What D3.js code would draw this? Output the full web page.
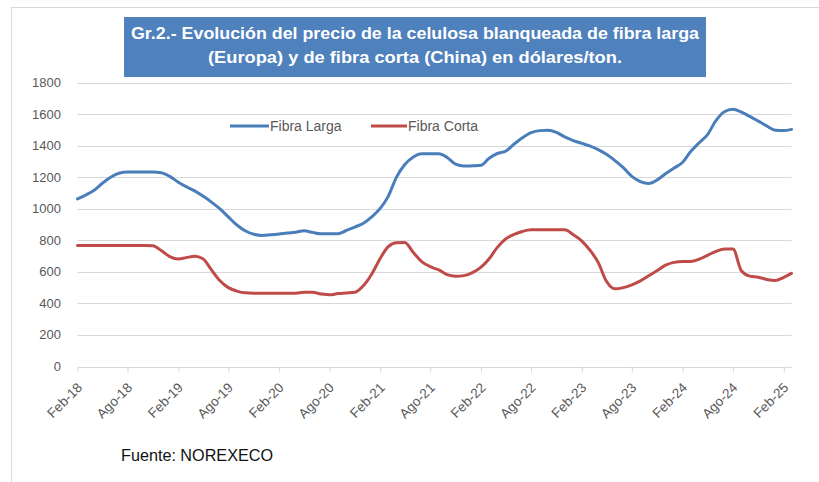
<!DOCTYPE html>
<html>
<head>
<meta charset="utf-8">
<script src="https://cdn.jsdelivr.net/npm/d3@7"></script>
<style>
  body { margin: 0; background: #fff; }
  svg { display: block; }
</style>
</head>
<body>
<svg width="819" height="482"></svg>
<script>
// DATA (monthly, Feb-18 .. Mar-25, USD/ton)
const startMonth = new Date(2018, 1, 1);
const endMonth = new Date(2025, 2, 1);

const tickLabels = ['Feb-18', 'Ago-18', 'Feb-19', 'Ago-19', 'Feb-20', 'Ago-20', 'Feb-21', 'Ago-21',
  'Feb-22', 'Ago-22', 'Feb-23', 'Ago-23', 'Feb-24', 'Ago-24', 'Feb-25'];

const yTicks = [0, 200, 400, 600, 800, 1000, 1200, 1400, 1600, 1800];

const fibraLarga = [
  1062, 1085, 1115, 1160, 1200, 1225, 1232, 1232, 1232, 1232, 1228, 1205,
  1168, 1140, 1113, 1080, 1042, 1000, 948, 897, 860, 838, 831, 835,
  840, 846, 851, 860, 850, 841, 841, 841, 862, 884, 906, 948,
  1002, 1075, 1200, 1280, 1328, 1348, 1348, 1348, 1325, 1282, 1270, 1272,
  1275, 1318, 1350, 1364, 1410, 1450, 1482, 1495, 1497, 1484, 1455, 1432,
  1414, 1398, 1375, 1345, 1305, 1260, 1205, 1172, 1160, 1183, 1222, 1258,
  1295, 1363, 1418, 1470, 1560, 1615, 1630, 1612, 1585, 1555, 1525, 1498,
  1495, 1503
];

const fibraCorta = [
  767, 767, 767, 767, 767, 767, 767, 767, 767, 765, 735, 697,
  682, 690, 698, 683, 612, 545, 500, 478, 467, 465, 465, 465,
  465, 465, 465, 470, 470, 460, 454, 462, 466, 470, 510, 585,
  685, 758, 785, 786, 722, 665, 633, 612, 582, 572, 576, 595,
  630, 680, 755, 808, 837, 856, 866, 866, 866, 866, 866, 835,
  795, 740, 660, 540, 492, 500, 518, 543, 575, 608, 642, 660,
  665, 665, 680, 705, 730, 744, 744, 605, 573, 566, 552, 545,
  565, 590
];

const seriesNames = ['Fibra Larga', 'Fibra Corta'];
const seriesColors = ['#4A7EBB', '#BE4B48'];

const months = d3.timeMonth.range(startMonth, d3.timeMonth.offset(endMonth, 1));
const series = [fibraLarga, fibraCorta].map((vals, i) => ({
  name: seriesNames[i],
  color: seriesColors[i],
  values: vals.map((v, j) => ({ date: months[j], value: v }))
}));

const FONT = "'Liberation Sans', Arial, sans-serif";
const NARROW = "'Liberation Sans Narrow', 'Liberation Sans', Arial, sans-serif";
const PLOT = { left: 77.5, right: 791.5, top: 82.5, bottom: 366.5 };

const svg = d3.select('svg');

// outer frame
svg
  .append('rect')
  .attr('x', 11.5)
  .attr('y', 7.5)
  .attr('width', 830)
  .attr('height', 500)
  .attr('fill', '#fff')
  .attr('stroke', '#d9d9d9');

const x = d3.scaleTime().domain([startMonth, endMonth]).range([PLOT.left, PLOT.right]);
const y = d3.scaleLinear().domain([0, 1800]).range([PLOT.bottom, PLOT.top]);

// gridlines
svg
  .append('g')
  .selectAll('line')
  .data(yTicks.slice(1))
  .join('line')
  .attr('x1', PLOT.left)
  .attr('x2', PLOT.right)
  .attr('y1', (d) => Math.round(y(d)) + 0.5)
  .attr('y2', (d) => Math.round(y(d)) + 0.5)
  .attr('stroke', '#d9d9d9')
  .attr('stroke-width', 1);

// y labels
svg
  .append('g')
  .selectAll('text')
  .data(yTicks)
  .join('text')
  .attr('x', 61)
  .attr('y', (d) => y(d) + 4.5)
  .attr('text-anchor', 'end')
  .style('font', `13px ${FONT}`)
  .attr('fill', '#595959')
  .text((d) => d);

// x axis, one tick every 6 months starting Feb-18
const tickDates = tickLabels.map((t, i) => d3.timeMonth.offset(startMonth, i * 6));
const xAxis = svg
  .append('g')
  .attr('transform', `translate(0, ${Math.round(PLOT.bottom) + 0.5})`)
  .call(
    d3.axisBottom(x)
      .tickValues(tickDates)
      .tickSize(5)
      .tickSizeOuter(0)
      .tickFormat((d, i) => tickLabels[i])
  );
xAxis.select('.domain').attr('stroke', '#d9d9d9').attr('d', `M${PLOT.left},0H${PLOT.right}`);
xAxis.selectAll('.tick line').attr('stroke', '#d9d9d9');
xAxis
  .selectAll('.tick text')
  .style('font', `13.5px ${FONT}`)
  .attr('fill', '#595959')
  .attr('text-anchor', 'end')
  .attr('x', 0)
  .attr('y', 0)
  .attr('dy', 0)
  .attr('transform', 'translate(5, 21) rotate(-45)');

// lines
const line = d3
  .line()
  .x((d) => x(d.date))
  .y((d) => y(d.value))
  .curve(d3.curveMonotoneX);

svg
  .append('g')
  .selectAll('path')
  .data(series)
  .join('path')
  .attr('d', (d) => line(d.values))
  .attr('fill', 'none')
  .attr('stroke', (d) => d.color)
  .attr('stroke-width', 3)
  .attr('stroke-linejoin', 'round')
  .attr('stroke-linecap', 'round');

// legend
const legendX = [230, 371];
const legend = svg
  .append('g')
  .selectAll('g')
  .data(series)
  .join('g')
  .attr('transform', (d, i) => `translate(${legendX[i]}, 126)`);
legend
  .append('line')
  .attr('x1', 0)
  .attr('x2', (d, i) => (i === 0 ? 39 : 36))
  .attr('stroke', (d) => d.color)
  .attr('stroke-width', 3);
legend
  .append('text')
  .attr('x', (d, i) => (i === 0 ? 40 : 37))
  .attr('y', 5)
  .style('font', `14px ${FONT}`)
  .attr('fill', '#595959')
  .text((d) => d.name);

// title box
svg
  .append('rect')
  .attr('x', 124)
  .attr('y', 17)
  .attr('width', 582)
  .attr('height', 60)
  .attr('fill', '#4F81BD');

const titleLines = [
  { text: 'Gr.2.- Evolución del precio de la celulosa blanqueada de fibra larga', y: 38.5, w: 568 },
  { text: '(Europa) y de fibra corta (China) en dólares/ton.', y: 63, w: 414 }
];
svg
  .append('g')
  .selectAll('text')
  .data(titleLines)
  .join('text')
  .attr('x', 415)
  .attr('y', (d) => d.y)
  .attr('text-anchor', 'middle')
  .attr('textLength', (d) => d.w)
  .attr('lengthAdjust', 'spacingAndGlyphs')
  .style('font', `bold 17px ${NARROW}`)
  .attr('fill', '#fff')
  .text((d) => d.text);

// source
svg
  .append('text')
  .attr('x', 121)
  .attr('y', 461)
  .attr('textLength', 152)
  .attr('lengthAdjust', 'spacingAndGlyphs')
  .style('font', `16px ${NARROW}`)
  .attr('fill', '#111')
  .text('Fuente: NOREXECO');
</script>
</body>
</html>
